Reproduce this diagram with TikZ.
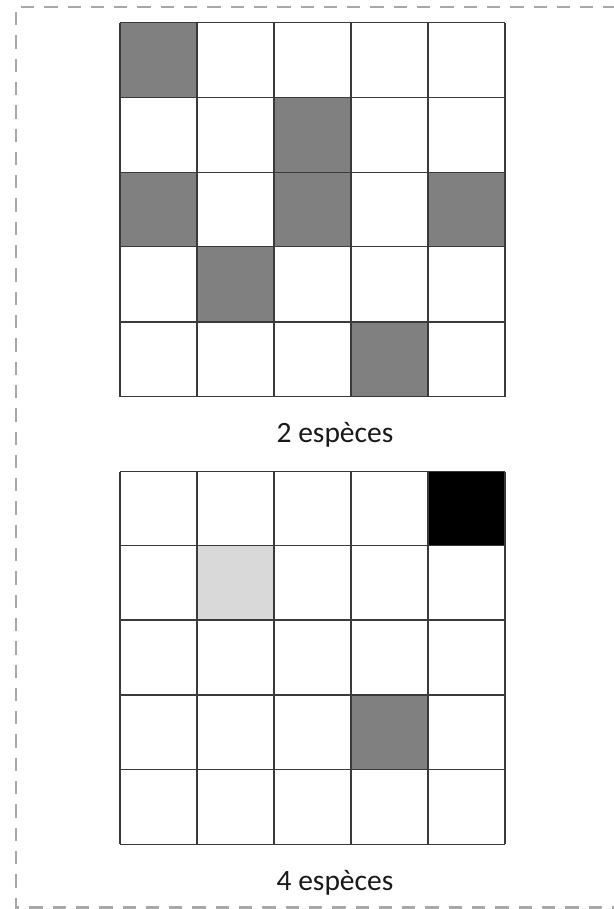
\documentclass[tikz,border=0pt]{standalone}
\usepackage{fontspec}
\setmainfont{Carlito}
\definecolor{gridline}{HTML}{3A3A3A}
\definecolor{midgray}{HTML}{808080}
\definecolor{lightgray}{HTML}{D9D9D9}
\definecolor{framegray}{HTML}{A8A8A8}
\begin{document}
\begin{tikzpicture}[x=1pt,y=-1pt,
  gridstyle/.style={draw=gridline,line width=1.3pt},
  framestyle/.style={draw=framegray,line width=2.6pt,dash pattern=on 13.3pt off 10pt},
  caption/.style={font=\fontsize{29.5}{33}\selectfont,text=black!90,inner sep=0pt,anchor=base}]
\useasboundingbox (0,0) rectangle (613,909);
\draw[framestyle] (640,7) -- (16,7) -- (16,907.5) -- (640,907.5);
% grid 1
\begin{scope}
\def\xs{{120,197,274,351,428,505}}
\def\ys{{22.7,97.7,172.3,246.7,322,396.7}}
\foreach \r/\c in {0/0,1/2,2/0,2/2,2/4,3/1,4/3}{
  \pgfmathsetmacro\xa{\xs[\c]}\pgfmathsetmacro\xb{\xs[\c+1]}
  \pgfmathsetmacro\ya{\ys[\r]}\pgfmathsetmacro\yb{\ys[\r+1]}
  \fill[midgray] (\xa,\ya) rectangle (\xb,\yb);
}
\foreach \i in {0,...,5}{
  \pgfmathsetmacro\xx{\xs[\i]}\pgfmathsetmacro\yy{\ys[\i]}
  \draw[gridstyle] (\xx,22.7) -- (\xx,396.7);
  \draw[gridstyle] (120,\yy) -- (505,\yy);
}
\end{scope}
% grid 2
\begin{scope}
\def\xs{{120,197,274,351,428,505}}
\def\ys{{471.7,545.5,620,695,769.5,844.3}}
\foreach \r/\c/\col in {0/4/black,1/1/lightgray,3/3/midgray}{
  \pgfmathsetmacro\xa{\xs[\c]}\pgfmathsetmacro\xb{\xs[\c+1]}
  \pgfmathsetmacro\ya{\ys[\r]}\pgfmathsetmacro\yb{\ys[\r+1]}
  \fill[\col] (\xa,\ya) rectangle (\xb,\yb);
}
\foreach \i in {0,...,5}{
  \pgfmathsetmacro\xx{\xs[\i]}\pgfmathsetmacro\yy{\ys[\i]}
  \draw[gridstyle] (\xx,471.7) -- (\xx,844.3);
  \draw[gridstyle] (120,\yy) -- (505,\yy);
}
\end{scope}
\node[caption] (cap1) at (335,442) {2 espèces};
\node[caption] (cap2) at (335,890) {4 espèces};
\end{tikzpicture}
\end{document}
